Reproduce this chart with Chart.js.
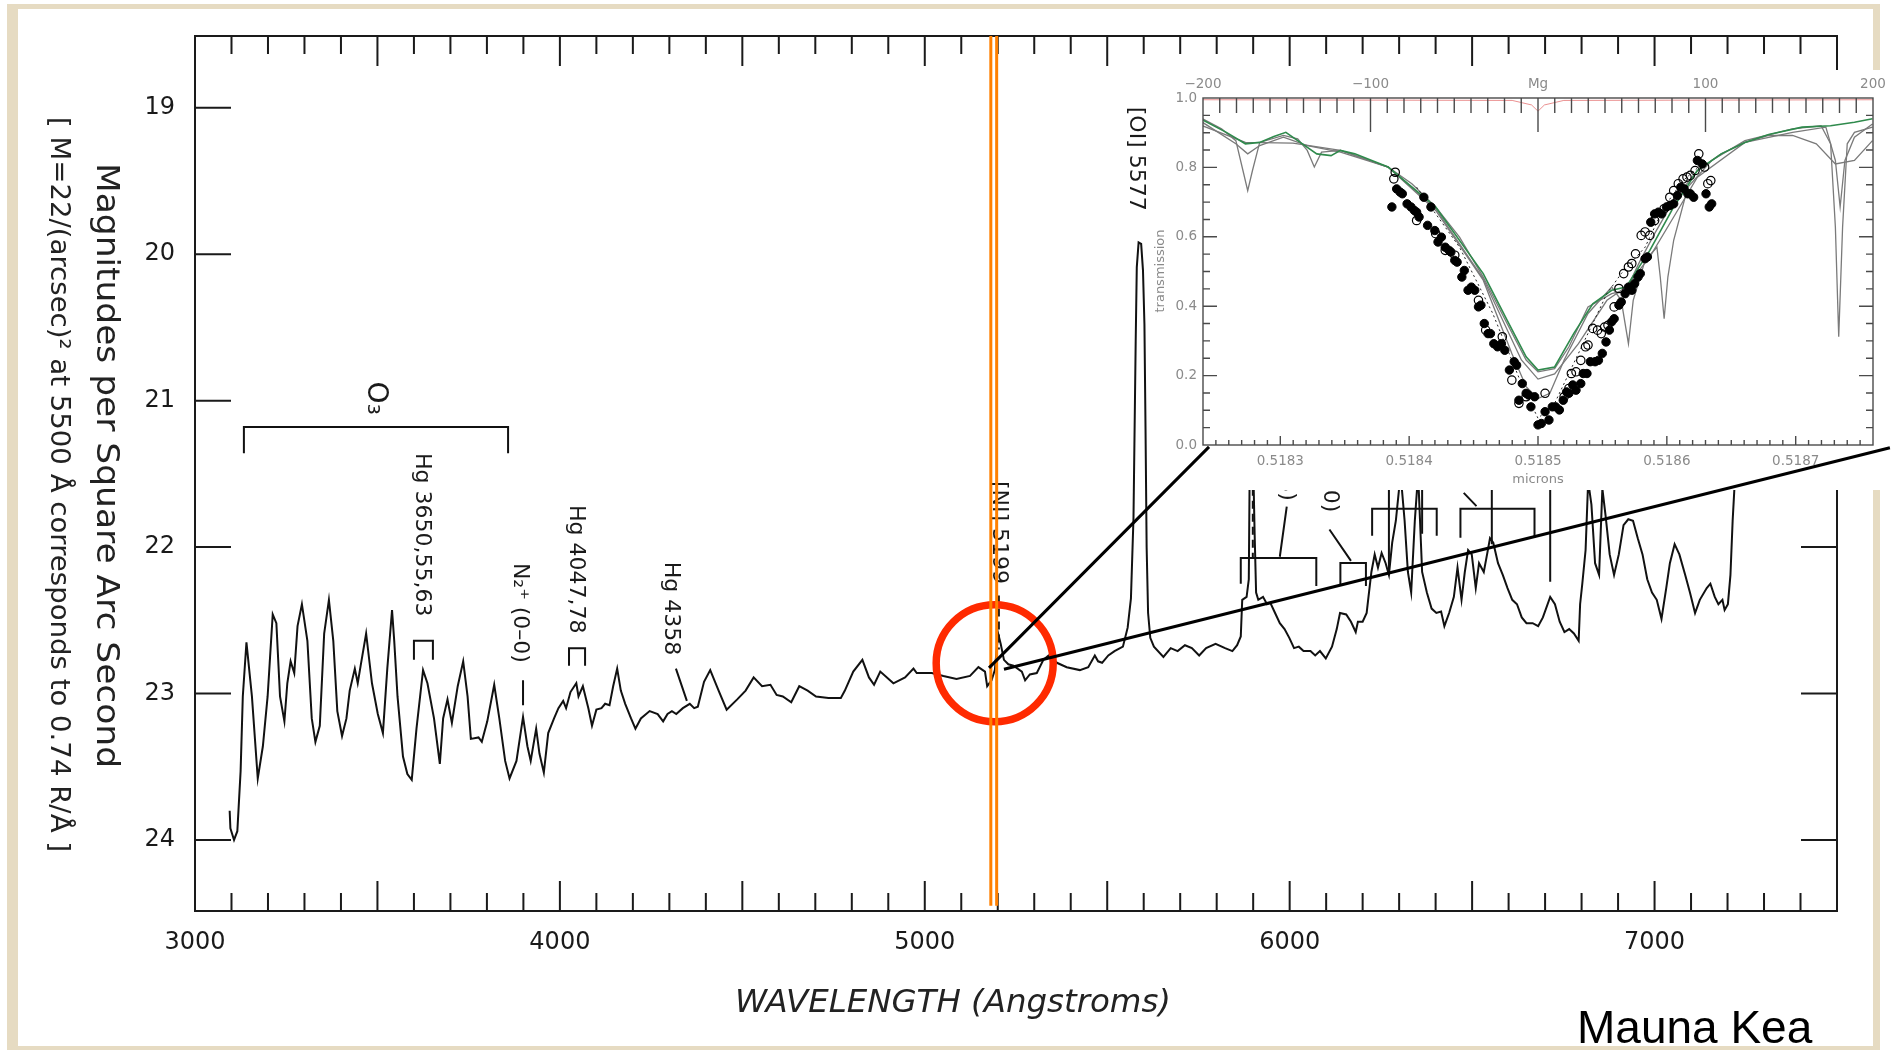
<!DOCTYPE html>
<html>
<head>
<meta charset="utf-8">
<title>Night sky spectrum – Mauna Kea</title>
<script src="https://cdn.jsdelivr.net/npm/chart.js@4.4.1/dist/chart.umd.min.js"></script>
<style>
  html, body { margin: 0; padding: 0; background: #fff; overflow: hidden; }
  #wrap { position: relative; width: 1896px; height: 1052px; }
  #main { position: absolute; left: 0; top: 0; }
  #inset { position: absolute; left: 1140px; top: 60px; }
</style>
</head>
<body>
<div id="wrap">
  <canvas id="main" width="1896" height="1052"></canvas>
  <canvas id="inset" width="756" height="440"></canvas>
</div>
<script>
// ---- main spectrum (wavelength in Angstrom, magnitude per square arcsec)
const specWave = [
  3095, 3097, 3107, 3116, 3125, 3131, 3141, 3156, 3172, 3186,
  3199, 3213, 3223, 3233, 3245, 3253, 3262, 3272, 3281, 3293,
  3308, 3320, 3330, 3342, 3354, 3367, 3379, 3390, 3403, 3415,
  3424, 3438, 3446, 3454, 3469, 3485, 3501, 3515, 3527, 3540,
  3546, 3555, 3570, 3582, 3594, 3607, 3625, 3637, 3655, 3671,
  3680, 3692, 3704, 3720, 3735, 3747, 3756, 3777, 3786, 3801,
  3820, 3834, 3850, 3862, 3881, 3899, 3911, 3920, 3935, 3944,
  3956, 3968, 3984, 3996, 4009, 4017, 4029, 4045, 4051, 4063,
  4078, 4088, 4100, 4114, 4124, 4136, 4146, 4157, 4167, 4179,
  4195, 4207, 4222, 4246, 4268, 4283, 4295, 4307, 4319, 4337,
  4356, 4368, 4378, 4395, 4412, 4435, 4457, 4486, 4509, 4531,
  4554, 4577, 4594, 4611, 4634, 4656, 4679, 4702, 4736, 4770,
  4781, 4804, 4829, 4847, 4861, 4878, 4914, 4946, 4969, 4978,
  5019, 5051, 5087, 5124, 5147, 5165, 5171, 5183, 5192, 5201,
  5208, 5217, 5229, 5243, 5266, 5275, 5288, 5307, 5325, 5339,
  5362, 5389, 5425, 5448, 5466, 5475, 5486, 5503, 5520, 5543,
  5556, 5565, 5572, 5576, 5578, 5581, 5586, 5593, 5598, 5602,
  5605, 5608, 5612, 5618, 5628, 5654, 5674, 5693, 5713, 5732,
  5752, 5771, 5797, 5823, 5843, 5856, 5866, 5870, 5882, 5888,
  5891, 5899, 5904, 5908, 5914, 5927, 5938, 5947, 5960, 5973,
  5986, 5999, 6012, 6025, 6038, 6057, 6070, 6083, 6099, 6116,
  6129, 6138, 6155, 6168, 6181, 6187, 6200, 6211, 6216, 6224,
  6233, 6242, 6252, 6263, 6272, 6281, 6291, 6304, 6315, 6324,
  6333, 6343, 6352, 6363, 6376, 6389, 6402, 6415, 6424, 6437,
  6450, 6460, 6471, 6480, 6489, 6499, 6510, 6519, 6532, 6541,
  6549, 6558, 6571, 6584, 6597, 6610, 6623, 6636, 6649, 6666,
  6681, 6694, 6714, 6727, 6740, 6753, 6766, 6779, 6792, 6796,
  6802, 6811, 6818, 6827, 6837, 6848, 6857, 6866, 6877, 6889,
  6902, 6915, 6928, 6941, 6954, 6967, 6980, 6993, 7006, 7019,
  7032, 7042, 7055, 7068, 7084, 7097, 7111, 7124, 7143, 7153,
  7165, 7175, 7186, 7192, 7201, 7208, 7214, 7221, 7224
];
const specMag = [
  23.80, 23.92, 24.00, 23.94, 23.53, 23.02, 22.65, 23.02, 23.58, 23.36,
  23.02, 22.46, 22.52, 23.02, 23.19, 22.93, 22.78, 22.86, 22.54, 22.39,
  22.64, 23.17, 23.33, 23.22, 22.59, 22.36, 22.64, 23.12, 23.29, 23.17,
  22.98, 22.83, 22.93, 22.81, 22.59, 22.93, 23.14, 23.27, 22.83, 22.43,
  22.64, 23.02, 23.43, 23.55, 23.59, 23.24, 22.84, 22.93, 23.17, 23.48,
  23.17, 23.04, 23.20, 22.95, 22.78, 23.02, 23.31, 23.30, 23.33, 23.19,
  22.94, 23.17, 23.46, 23.58, 23.46, 23.16, 23.36, 23.46, 23.24, 23.41,
  23.54, 23.27, 23.17, 23.10, 23.05, 23.10, 22.99, 22.93, 23.02, 22.95,
  23.10, 23.22, 23.11, 23.10, 23.07, 23.08, 22.95, 22.83, 22.98, 23.07,
  23.17, 23.24, 23.17, 23.12, 23.14, 23.19, 23.14, 23.12, 23.14, 23.10,
  23.07, 23.10, 23.09, 22.92, 22.84, 22.98, 23.11, 23.04, 22.98, 22.89,
  22.95, 22.94, 23.01, 23.02, 23.06, 22.95, 22.98, 23.02, 23.03, 23.03,
  22.98, 22.85, 22.77, 22.89, 22.94, 22.85, 22.93, 22.89, 22.83, 22.86,
  22.86, 22.88, 22.90, 22.88, 22.82, 22.85, 22.95, 22.91, 22.84, 22.59,
  22.66, 22.77, 22.80, 22.81, 22.85, 22.91, 22.87, 22.86, 22.77, 22.74,
  22.79, 22.82, 22.84, 22.82, 22.74, 22.78, 22.79, 22.74, 22.71, 22.68,
  22.55, 22.35, 21.80, 21.00, 20.60, 20.09, 19.92, 19.93, 20.11, 20.48,
  21.20, 22.00, 22.45, 22.62, 22.68, 22.75, 22.69, 22.71, 22.67, 22.69,
  22.74, 22.69, 22.66, 22.69, 22.71, 22.67, 22.61, 22.36, 22.34, 22.22,
  21.30, 21.30, 21.91, 22.31, 22.36, 22.34, 22.39, 22.38, 22.45, 22.52,
  22.56, 22.62, 22.69, 22.68, 22.71, 22.71, 22.74, 22.71, 22.76, 22.68,
  22.56, 22.45, 22.46, 22.51, 22.58, 22.51, 22.51, 22.45, 22.34, 22.17,
  22.05, 22.14, 22.04, 22.11, 22.19, 21.97, 21.82, 21.50, 21.82, 22.17,
  22.31, 21.82, 21.50, 22.17, 22.31, 22.42, 22.45, 22.44, 22.54, 22.45,
  22.34, 22.14, 22.36, 22.17, 22.02, 22.05, 22.28, 22.11, 22.17, 22.05,
  21.94, 21.97, 22.11, 22.19, 22.28, 22.36, 22.39, 22.48, 22.52, 22.52,
  22.54, 22.48, 22.34, 22.39, 22.51, 22.58, 22.56, 22.59, 22.64, 22.39,
  22.25, 22.02, 21.55, 21.71, 22.11, 22.19, 21.60, 21.79, 22.05, 22.19,
  22.05, 21.85, 21.81, 21.82, 21.94, 22.05, 22.22, 22.31, 22.36, 22.49,
  22.28, 22.11, 21.98, 22.05, 22.19, 22.31, 22.45, 22.36, 22.28, 22.25,
  22.34, 22.39, 22.36, 22.43, 22.39, 22.19, 21.82, 21.50, 21.20
];

// line identification brackets and leaders (null = pen up)
const annoWave = [3134, 3134, 3858, 3858, null, 3600, 3600, 3652, 3652, null,
  4025, 4025, 4069, 4069, null, 3899, 3899, null, 4318, 4348, null,
  5866, 5866, 6073, 6073, null, 5992, 5973, null, 6139, 6139, 6209, 6209, null,
  6109, 6168, null, 6226, 6226, 6403, 6403, null, 6272, 6272, null, 6363, 6363, null,
  6468, 6468, 6671, 6671, null, 6554, 6554, null, 6477, 6512, null, 6714, 6714];
const annoMag = [21.36, 21.18, 21.18, 21.36, null, 22.77, 22.64, 22.64, 22.77, null,
  22.81, 22.69, 22.69, 22.81, null, 22.91, 23.08, null, 22.83, 23.05, null,
  22.25, 22.074, 22.074, 22.265, null, 21.724, 22.066, null, 22.265, 22.108, 22.108, 22.265, null,
  21.88, 22.094, null, 21.923, 21.738, 21.738, 21.923, null, 21.595, 22.194, null, 21.595, 21.909, null,
  21.937, 21.738, 21.738, 21.937, null, 21.595, 21.98, null, 21.63, 21.72, null, 21.595, 22.236];
const dashWave = [5203, 5203, null, 5899, 5899];
const dashMag = [22.33, 22.70, null, 21.595, 22.08];

const labelText = ['O₃', 'Hg 3650,55,63', 'N₂⁺ (0–0)', 'Hg 4047,78', 'Hg 4358',
  '[NI] 5199', '[OI] 5577', '(9–3)', '(5–0)'];
const labelWave = [3493, 3622, 3891, 4044, 4304, 5202, 5579, 5992, 6110];
const labelMag = [20.87, 21.357, 22.108, 21.712, 22.10, 21.548, 18.993, 21.30, 21.38];

// Mg b marker lines, highlight circle and zoom connectors
const markerWave = [5181, 5181, null, 5197, 5197];
const markerMag = [18.51, 24.45, null, 18.51, 24.45];
const circleWave = [5191.6];
const circleMag = [22.793];
const zoomWave = [5176, 5779, null, 5217, 7645];
const zoomMag = [22.825, 21.316, null, 22.834, 21.322];

const xTickValues = [3000, 4000, 5000, 6000, 7000];
const yTickValues = [19, 20, 21, 22, 23, 24];

// ---- inset: Mg line transmission (microns)
const modelAWave = [0.5182396, 0.5182729, 0.5183098, 0.5183467, 0.5183837, 0.5184021, 0.5184206, 0.5184391, 0.5184575, 0.5184760,
  0.5184908, 0.5185000, 0.5185129, 0.5185240, 0.5185388, 0.5185572, 0.5185683, 0.5185794, 0.5185905, 0.5186053,
  0.5186237, 0.5186422, 0.5186606, 0.5186791, 0.5186976, 0.5187160, 0.5187308, 0.5187456, 0.5187596];
const modelATrans = [0.920, 0.872, 0.870, 0.849, 0.801, 0.753, 0.686, 0.599, 0.484, 0.350,
  0.245, 0.211, 0.220, 0.283, 0.398, 0.436, 0.446, 0.532, 0.609, 0.705,
  0.791, 0.839, 0.872, 0.892, 0.892, 0.868, 0.810, 0.820, 0.877];
const modelBWave = [0.5182396, 0.5182544, 0.5182655, 0.5182710, 0.5182747, 0.5182784, 0.5182840, 0.5183024, 0.5183135, 0.5183209,
  0.5183264, 0.5183320, 0.5183467, 0.5183837, 0.5184206, 0.5184575, 0.5184797, 0.5184908, 0.5185000, 0.5185092,
  0.5185203, 0.5185388, 0.5185572, 0.5185646, 0.5185702, 0.5185739, 0.5185831, 0.5185923, 0.5185949, 0.5185979,
  0.5186008, 0.5186053, 0.5186163, 0.5186348, 0.5186606, 0.5186976, 0.5187197, 0.5187271, 0.5187308, 0.5187334,
  0.5187364, 0.5187400, 0.5187456, 0.5187596];
const modelBTrans = [0.940, 0.911, 0.877, 0.791, 0.733, 0.791, 0.872, 0.892, 0.882, 0.849,
  0.801, 0.844, 0.849, 0.801, 0.676, 0.475, 0.264, 0.168, 0.134, 0.149,
  0.245, 0.379, 0.455, 0.417, 0.292, 0.417, 0.532, 0.570, 0.484, 0.364,
  0.484, 0.590, 0.743, 0.820, 0.877, 0.911, 0.920, 0.868, 0.628, 0.312,
  0.628, 0.868, 0.901, 0.916];
const modelCWave = [0.5182396, 0.5182655, 0.5182747, 0.5182840, 0.5183024, 0.5183209, 0.5183467, 0.5183837, 0.5184206, 0.5184575,
  0.5184871, 0.5185000, 0.5185129, 0.5185314, 0.5185535, 0.5185683, 0.5185868, 0.5186053, 0.5186237, 0.5186606,
  0.5186976, 0.5187234, 0.5187308, 0.5187345, 0.5187382, 0.5187456, 0.5187596];
const modelCTrans = [0.930, 0.868, 0.839, 0.863, 0.887, 0.863, 0.844, 0.801, 0.681, 0.479,
  0.245, 0.190, 0.205, 0.292, 0.417, 0.455, 0.542, 0.657, 0.772, 0.872,
  0.901, 0.916, 0.820, 0.686, 0.820, 0.887, 0.925];
const greenWave = [0.5182396, 0.5182581, 0.5182729, 0.5182840, 0.5182950, 0.5183043, 0.5183135, 0.5183283, 0.5183394, 0.5183467,
  0.5183578, 0.5183837, 0.5184206, 0.5184575, 0.5184760, 0.5184908, 0.5185000, 0.5185129, 0.5185277, 0.5185425,
  0.5185572, 0.5185683, 0.5185868, 0.5186053, 0.5186237, 0.5186422, 0.5186606, 0.5186791, 0.5187050, 0.5187271,
  0.5187456, 0.5187596];
const greenTrans = [0.937, 0.901, 0.868, 0.872, 0.889, 0.901, 0.877, 0.839, 0.834, 0.849,
  0.839, 0.801, 0.686, 0.494, 0.360, 0.254, 0.216, 0.225, 0.321, 0.407,
  0.446, 0.455, 0.561, 0.686, 0.791, 0.839, 0.872, 0.895, 0.916, 0.920,
  0.930, 0.940];
const dotWave = [0.5184058, 0.5184391, 0.5184649, 0.5184871, 0.5185000, 0.5185129, 0.5185314, 0.5185535, 0.5185646, 0.5185831,
  0.5185979, 0.5186126, 0.5186274];
const dotTrans = [0.743, 0.570, 0.379, 0.177, 0.077, 0.120, 0.264, 0.436, 0.494, 0.570,
  0.686, 0.762, 0.810];
const redWave = [0.51824, 0.51848, 0.518495, 0.5185, 0.518505, 0.51852, 0.51876];
const redTrans = [0.995, 0.993, 0.980, 0.962, 0.980, 0.993, 0.995];

const fillWave = [0.5183866, 0.5183903, 0.5183929, 0.5183947, 0.5183984, 0.5184014, 0.5184040, 0.5184058, 0.5184077, 0.5184114,
  0.5184143, 0.5184169, 0.5184199, 0.5184224, 0.5184250, 0.5184280, 0.5184309, 0.5184324, 0.5184354, 0.5184372,
  0.5184409, 0.5184428, 0.5184457, 0.5184483, 0.5184509, 0.5184538, 0.5184557, 0.5184583, 0.5184612, 0.5184631,
  0.5184657, 0.5184686, 0.5184716, 0.5184742, 0.5184778, 0.5184815, 0.5184834, 0.5184852, 0.5184878, 0.5184908,
  0.5184926, 0.5184945, 0.5184974, 0.5185000, 0.5185026, 0.5185055, 0.5185085, 0.5185111, 0.5185137, 0.5185166,
  0.5185196, 0.5185222, 0.5185240, 0.5185270, 0.5185295, 0.5185332, 0.5185351, 0.5185380, 0.5185406, 0.5185443,
  0.5185469, 0.5185499, 0.5185528, 0.5185554, 0.5185572, 0.5185591, 0.5185628, 0.5185646, 0.5185676, 0.5185702,
  0.5185728, 0.5185750, 0.5185776, 0.5185794, 0.5185831, 0.5185849, 0.5185875, 0.5185905, 0.5185934, 0.5185960,
  0.5185997, 0.5186023, 0.5186053, 0.5186082, 0.5186108, 0.5186134, 0.5186163, 0.5186182, 0.5186208, 0.5186237,
  0.5186274, 0.5186304, 0.5186329, 0.5186348];
const fillTrans = [0.686, 0.738, 0.729, 0.724, 0.695, 0.686, 0.676, 0.671, 0.657, 0.714,
  0.633, 0.686, 0.618, 0.585, 0.599, 0.570, 0.561, 0.556, 0.532, 0.527,
  0.484, 0.503, 0.446, 0.455, 0.446, 0.398, 0.403, 0.350, 0.321, 0.321,
  0.292, 0.283, 0.292, 0.273, 0.216, 0.240, 0.230, 0.129, 0.177, 0.149,
  0.144, 0.110, 0.139, 0.058, 0.062, 0.096, 0.072, 0.110, 0.110, 0.101,
  0.129, 0.153, 0.149, 0.173, 0.158, 0.177, 0.206, 0.206, 0.240, 0.240,
  0.244, 0.264, 0.297, 0.331, 0.355, 0.364, 0.403, 0.412, 0.436, 0.455,
  0.446, 0.465, 0.484, 0.494, 0.537, 0.542, 0.642, 0.666, 0.671, 0.666,
  0.686, 0.690, 0.695, 0.719, 0.743, 0.738, 0.724, 0.724, 0.714, 0.820,
  0.810, 0.724, 0.686, 0.695];
const openWave = [0.5183881, 0.5183892, 0.5184058, 0.5184206, 0.5184280, 0.5184354, 0.5184538, 0.5184594, 0.5184723, 0.5184797,
  0.5184852, 0.5184908, 0.5185055, 0.5185203, 0.5185240, 0.5185259, 0.5185295, 0.5185332, 0.5185369, 0.5185388,
  0.5185425, 0.5185462, 0.5185491, 0.5185517, 0.5185543, 0.5185591, 0.5185628, 0.5185665, 0.5185702, 0.5185728,
  0.5185757, 0.5185801, 0.5185831, 0.5185868, 0.5185905, 0.5185979, 0.5186023, 0.5186053, 0.5186089, 0.5186126,
  0.5186156, 0.5186182, 0.5186219, 0.5186248, 0.5186293, 0.5186318, 0.5186341];
const openTrans = [0.767, 0.786, 0.647, 0.609, 0.561, 0.547, 0.417, 0.331, 0.312, 0.187,
  0.120, 0.139, 0.149, 0.139, 0.163, 0.206, 0.211, 0.244, 0.283, 0.288,
  0.336, 0.331, 0.321, 0.340, 0.345, 0.398, 0.451, 0.494, 0.513, 0.523,
  0.551, 0.604, 0.614, 0.604, 0.647, 0.681, 0.714, 0.733, 0.753, 0.767,
  0.772, 0.777, 0.791, 0.839, 0.801, 0.753, 0.762];

const pts = (xs, ys) => xs.map((x, i) => ({ x: x, y: ys[i] }));

function drawText(ctx, text, x, y, rot, font, len, align) {
  ctx.save();
  ctx.translate(x, y);
  ctx.rotate(rot);
  ctx.font = font;
  ctx.textAlign = align || 'left';
  ctx.textBaseline = 'middle';
  if (len) {
    const w = ctx.measureText(text).width;
    ctx.scale(len / w, 1);
  }
  ctx.fillText(text, 0, 0);
  ctx.restore();
}

const mainDecor = {
  id: 'mainDecor',
  beforeDraw(chart) {
    const ctx = chart.ctx;
    ctx.save();
    ctx.fillStyle = '#fff';
    ctx.fillRect(0, 0, chart.width, chart.height);
    // beige slide frame
    ctx.fillStyle = '#e6dbc2';
    ctx.fillRect(7, 4, 1873, 5);
    ctx.fillRect(7, 4, 11, 1046);
    ctx.fillRect(1873, 4, 7, 1046);
    ctx.fillRect(7, 1046, 1873, 4);
    ctx.restore();
  },
  beforeDatasetsDraw(chart) {
    const { ctx, chartArea: a, scales: { x, y } } = chart;
    ctx.save();
    ctx.strokeStyle = '#1a1a1a';
    ctx.lineWidth = 2;
    ctx.strokeRect(a.left, a.top, a.right - a.left, a.bottom - a.top);
    ctx.beginPath();
    for (let w = 3100; w < 7500; w += 100) {
      const px = x.getPixelForValue(w);
      const len = w % 500 === 0 ? 30 : 18;
      ctx.moveTo(px, a.bottom); ctx.lineTo(px, a.bottom - len);
      ctx.moveTo(px, a.top); ctx.lineTo(px, a.top + len);
    }
    yTickValues.forEach(m => {
      const py = y.getPixelForValue(m);
      ctx.moveTo(a.left, py); ctx.lineTo(a.left + 36, py);
      ctx.moveTo(a.right, py); ctx.lineTo(a.right - 36, py);
    });
    ctx.stroke();

    ctx.fillStyle = '#1a1a1a';
    labelText.forEach((t, i) => {
      const size = i === 0 ? 28 : 22;
      drawText(ctx, t, x.getPixelForValue(labelWave[i]), y.getPixelForValue(labelMag[i]),
        Math.PI / 2, size + 'px "DejaVu Sans"');
    });
    ctx.fillStyle = '#222';
    drawText(ctx, 'Magnitudes per Square Arc Second', 105, 163, Math.PI / 2, '32px "DejaVu Sans"', 605);
    drawText(ctx, '[ M=22/(arcsec)² at 5500 Å corresponds to 0.74 R/Å ]', 58, 117, Math.PI / 2,
      '26px "DejaVu Sans"', 735);
    drawText(ctx, 'WAVELENGTH (Angstroms)', 735, 1004, 0, 'italic 32px "DejaVu Sans"', 436);
    ctx.restore();
  },
  beforeDatasetDraw(chart, args) {
    if (chart.data.datasets[args.index].label !== 'zoom') return;
    // white backing for the inset figure
    const ctx = chart.ctx;
    ctx.save();
    ctx.fillStyle = '#fff';
    ctx.fillRect(1150, 70, 746, 420);
    ctx.restore();
  },
  afterDraw(chart) {
    const ctx = chart.ctx;
    ctx.save();
    ctx.fillStyle = '#000';
    ctx.font = '46px "Liberation Sans"';
    ctx.textBaseline = 'alphabetic';
    ctx.fillText('Mauna Kea', 1577, 1043);
    ctx.restore();
  }
};

new Chart(document.getElementById('main'), {
  type: 'scatter',
  data: {
    datasets: [
      { label: 'zoom', data: pts(zoomWave, zoomMag), showLine: true, borderColor: '#000',
        borderWidth: 3, pointRadius: 0, clip: false, order: -1 },
      { label: 'marker', data: pts(markerWave, markerMag), showLine: true, borderColor: '#ff8000',
        borderWidth: 3, pointRadius: 0 },
      { label: 'circle', data: pts(circleWave, circleMag), pointRadius: 58.5, borderWidth: 7.5,
        borderColor: '#ff2a00', backgroundColor: 'rgba(0,0,0,0)', clip: false },
      { label: 'spectrum', data: pts(specWave, specMag), showLine: true, borderColor: '#111',
        borderWidth: 2, pointRadius: 0 },
      { label: 'annotations', data: pts(annoWave, annoMag), showLine: true, borderColor: '#111',
        borderWidth: 2, pointRadius: 0 },
      { label: 'leaders', data: pts(dashWave, dashMag), showLine: true, borderColor: '#111',
        borderWidth: 2, borderDash: [8, 5], pointRadius: 0 }
    ]
  },
  options: {
    responsive: false,
    animation: false,
    events: [],
    layout: { autoPadding: false, padding: { left: 0, right: 59, top: 36, bottom: 0 } },
    plugins: { legend: { display: false }, tooltip: { enabled: false } },
    scales: {
      x: {
        type: 'linear', min: 3000, max: 7500,
        grid: { display: false, drawTicks: false }, border: { display: false },
        afterBuildTicks: s => { s.ticks = xTickValues.map(v => ({ value: v })); },
        ticks: { padding: 17, color: '#1a1a1a', font: { family: 'DejaVu Sans', size: 24 },
          maxRotation: 0, autoSkip: false, callback: v => String(v) },
        afterFit: s => { s.height = 141; }
      },
      y: {
        type: 'linear', reverse: true, min: 18.51, max: 24.485,
        grid: { display: false, drawTicks: false }, border: { display: false },
        afterBuildTicks: s => { s.ticks = yTickValues.map(v => ({ value: v })); },
        ticks: { padding: 20, color: '#1a1a1a', font: { family: 'DejaVu Sans', size: 24 },
          autoSkip: false, callback: v => String(v) },
        afterFit: s => { s.width = 195; }
      }
    }
  },
  plugins: [mainDecor]
});

// ---- inset chart
const insetDecor = {
  id: 'insetDecor',
  afterDatasetsDraw(chart) {
    const { ctx, chartArea: a, scales: { x, x2, y } } = chart;
    ctx.save();
    ctx.strokeStyle = '#4a4a4a';
    ctx.lineWidth = 1.4;
    ctx.strokeRect(a.left, a.top, a.right - a.left, a.bottom - a.top);
    ctx.beginPath();
    for (let k = 51825; k <= 51875; k++) {
      const px = x.getPixelForValue(k / 1e5);
      const len = k % 10 === 0 ? 9 : 5;
      ctx.moveTo(px, a.bottom); ctx.lineTo(px, a.bottom - len);
    }
    for (let v = -190; v <= 190; v += 10) {
      const px = x2.getPixelForValue(v);
      const len = v % 100 === 0 ? 34 : 15;
      ctx.moveTo(px, a.top); ctx.lineTo(px, a.top + len);
    }
    for (let k = 1; k < 20; k++) {
      const py = y.getPixelForValue(k * 0.05);
      const len = k % 4 === 0 ? 14 : 7;
      ctx.moveTo(a.left, py); ctx.lineTo(a.left + len, py);
      ctx.moveTo(a.right, py); ctx.lineTo(a.right - len, py);
    }
    ctx.stroke();
    ctx.fillStyle = '#8a8a8a';
    drawText(ctx, 'transmission', 21, 211, -Math.PI / 2, '13px "DejaVu Sans"', null, 'center');
    drawText(ctx, 'microns', 398, 420, 0, '13px "DejaVu Sans"', null, 'center');
    ctx.restore();
  }
};

const insetTickFont = { family: 'DejaVu Sans', size: 13.5 };

new Chart(document.getElementById('inset'), {
  type: 'scatter',
  data: {
    datasets: [
      { label: 'filled', data: pts(fillWave, fillTrans), pointRadius: 4.2, borderWidth: 1,
        borderColor: '#000', backgroundColor: '#000' },
      { label: 'open', data: pts(openWave, openTrans), pointRadius: 4.2, borderWidth: 1.2,
        borderColor: '#000', backgroundColor: 'rgba(255,255,255,0)' },
      { label: 'dotted', data: pts(dotWave, dotTrans), showLine: true, borderColor: '#222',
        borderWidth: 1, borderDash: [2, 3], pointRadius: 0 },
      { label: 'green', data: pts(greenWave, greenTrans), showLine: true, borderColor: '#2f8a4c',
        borderWidth: 1.6, pointRadius: 0 },
      { label: 'modelA', data: pts(modelAWave, modelATrans), showLine: true, borderColor: '#7a7a7a',
        borderWidth: 1.3, pointRadius: 0 },
      { label: 'modelB', data: pts(modelBWave, modelBTrans), showLine: true, borderColor: '#7a7a7a',
        borderWidth: 1.3, pointRadius: 0 },
      { label: 'modelC', data: pts(modelCWave, modelCTrans), showLine: true, borderColor: '#7a7a7a',
        borderWidth: 1.3, pointRadius: 0 },
      { label: 'residual', data: pts(redWave, redTrans), showLine: true, borderColor: 'rgba(220,70,70,0.6)',
        borderWidth: 1, pointRadius: 0 }
    ]
  },
  options: {
    responsive: false,
    animation: false,
    events: [],
    layout: { autoPadding: false, padding: { left: 0, right: 23, top: 0, bottom: 0 } },
    plugins: { legend: { display: false }, tooltip: { enabled: false } },
    scales: {
      x: {
        type: 'linear', position: 'bottom', min: 0.51824, max: 0.51876,
        grid: { display: false, drawTicks: false }, border: { display: false },
        ticks: { stepSize: 0.0001, includeBounds: false, padding: 8, color: '#8a8a8a',
          font: insetTickFont, maxRotation: 0, autoSkip: false, callback: v => v.toFixed(4) },
        afterFit: s => { s.height = 55; }
      },
      x2: {
        type: 'linear', axis: 'x', position: 'top', min: -200, max: 200,
        grid: { display: false, drawTicks: false }, border: { display: false },
        ticks: { stepSize: 100, padding: 5, color: '#8a8a8a', font: insetTickFont,
          maxRotation: 0, autoSkip: false,
          callback: v => v === 0 ? 'Mg' : (v < 0 ? '−' + Math.abs(v) : String(v)) },
        afterFit: s => { s.height = 38; }
      },
      y: {
        type: 'linear', min: 0, max: 1,
        grid: { display: false, drawTicks: false }, border: { display: false },
        ticks: { stepSize: 0.2, padding: 6, color: '#8a8a8a', font: insetTickFont,
          callback: v => v.toFixed(1) },
        afterFit: s => { s.width = 63; }
      }
    }
  },
  plugins: [insetDecor]
});
</script>
</body>
</html>
